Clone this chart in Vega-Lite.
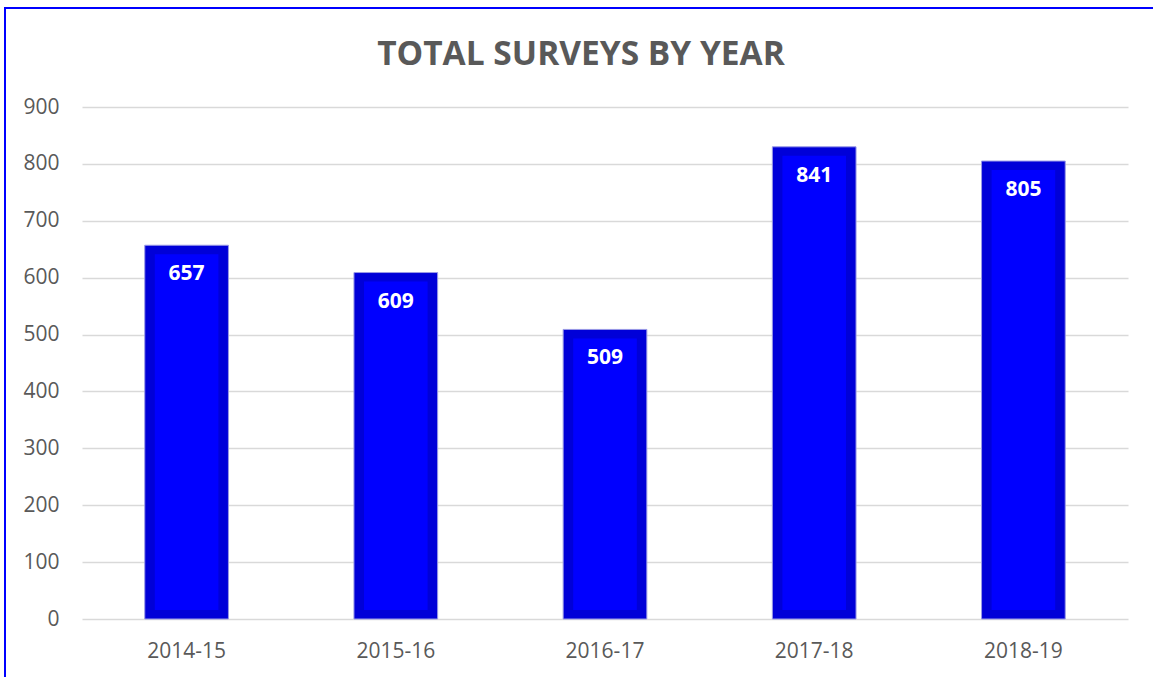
{
  "$schema": "https://vega.github.io/schema/vega-lite/v6.json",
  "autosize": "none",
  "padding": {"left": 5, "top": 8, "right": 0, "bottom": 0},
  "width": 1150,
  "height": 672,
  "background": "white",
  "config": {
    "view": {"stroke": "#0000FF", "strokeWidth": 2},
    "font": "Open Sans"
  },
  "title": {
    "text": "TOTAL SURVEYS BY YEAR",
    "font": "Open Sans",
    "fontSize": 33.5,
    "fontWeight": "bold",
    "color": "#595959",
    "anchor": "middle",
    "baseline": "alphabetic",
    "offset": -90,
    "dx": 1
  },
  "data": {
    "values": [
      {"year": "2014-15", "bar": 657, "label": "657"},
      {"year": "2015-16", "bar": 609, "label": "609"},
      {"year": "2016-17", "bar": 509, "label": "509"},
      {"year": "2017-18", "bar": 830, "label": "841"},
      {"year": "2018-19", "bar": 805, "label": "805"}
    ]
  },
  "encoding": {
    "x": {
      "field": "year",
      "type": "nominal",
      "sort": null,
      "scale": {"range": [77, 1123], "paddingInner": 0.6, "paddingOuter": 0.3},
      "axis": {
        "title": null,
        "labelAngle": 0,
        "labelFont": "Open Sans",
        "labelFontSize": 21,
        "labelColor": "#595959",
        "labelPadding": 21,
        "ticks": false,
        "domain": false,
        "offset": -61
      }
    },
    "y": {
      "field": "bar",
      "type": "quantitative",
      "scale": {"domain": [0, 900], "range": [611, 99], "nice": false},
      "axis": {
        "title": null,
        "values": [0, 100, 200, 300, 400, 500, 600, 700, 800, 900],
        "labelFont": "Open Sans",
        "labelFontSize": 21,
        "labelColor": "#595959",
        "labelPadding": 23,
        "ticks": false,
        "domain": false,
        "grid": true,
        "gridColor": "#D9D9D9",
        "gridWidth": 1.5,
        "offset": -77
      }
    }
  },
  "layer": [
    {
      "mark": {"type": "bar", "fill": "#0000D8", "stroke": "#9A9AE6", "strokeWidth": 1}
    },
    {
      "mark": {"type": "bar", "fill": "#0000FF", "width": {"band": 0.76}, "yOffset": 9},
      "encoding": {"y2": {"datum": 15.8}}
    },
    {
      "mark": {"type": "text", "color": "white", "fontWeight": "bold", "fontSize": 21, "font": "Open Sans", "baseline": "alphabetic", "dy": 35},
      "encoding": {"text": {"field": "label"}}
    }
  ]
}
